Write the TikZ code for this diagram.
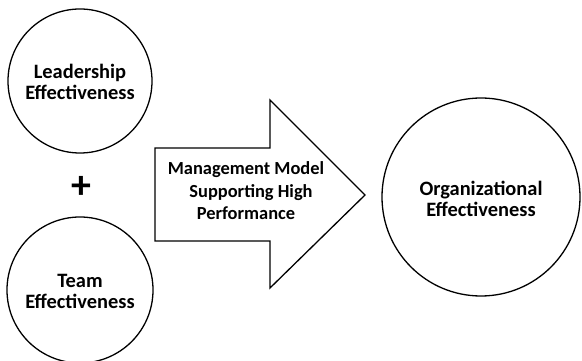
\documentclass[tikz,border=0pt]{standalone}
\usepackage{fontspec}
\setmainfont{Carlito}

\tikzset{
  effect/.style={circle, draw, inner sep=0pt, align=center, text height=38bp,
    font=\fontsize{20.5}{21.5}\selectfont\bfseries},
  modeltext/.style={align=center, inner sep=0pt,
    font=\fontsize{18.5}{22.5}\selectfont\bfseries},
}

\begin{document}
\begin{tikzpicture}[line join=miter]
  \pgfsetlinewidth{1.3bp}
  \useasboundingbox (0bp,0bp) rectangle (582bp,361bp);
%%
\pgfsetcolor{black}
  % Node: Leadership
  \node [effect, minimum size=144bp] (leader) at (80bp,280bp) {Leadership\\Effectiveness};
  % Node: Team
  \node [effect, minimum size=146bp] (team) at (80bp,71bp) {Team\\Effectiveness};
  % Node: plus sign between the two
  \node [inner sep=0pt, font=\fontsize{40}{40}\selectfont\bfseries] (plus) at (81bp,174bp) {+};
  % Arrow: management model
  \draw (155bp,213bp) -- (270bp,213bp) -- (270bp,261bp) -- (365bp,166bp)
     -- (270bp,73bp) -- (270bp,120bp) -- (155bp,120bp) -- cycle;
  \node [modeltext] (model) at (246bp,170bp) {Management Model\\\hspace{10bp}Supporting High\\Performance};
  % Node: Organizational
  \node [effect, text height=40bp, minimum size=198bp] (org) at (481bp,164bp) {Organizational\\Effectiveness};
%
\end{tikzpicture}
\end{document}
